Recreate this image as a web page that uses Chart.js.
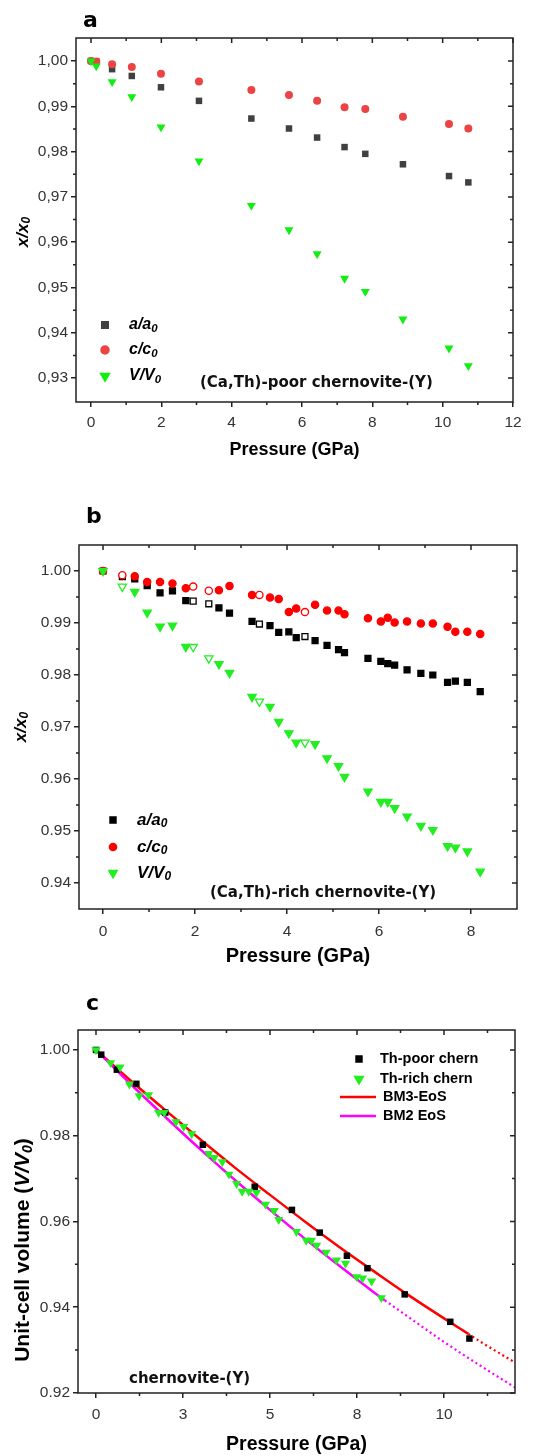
<!DOCTYPE html>
<html><head><meta charset="utf-8">
<script src="https://cdn.jsdelivr.net/npm/chart.js@4.4.1/dist/chart.umd.min.js"></script>
<style>
html,body{margin:0;padding:0;background:#fff}
body{width:542px;height:1456px;position:relative;overflow:hidden}
canvas{position:absolute;left:0}
</style></head><body>
<canvas id="chartA" width="542" height="470" style="top:0px"></canvas>
<canvas id="chartB" width="542" height="497" style="top:478px"></canvas>
<canvas id="chartC" width="542" height="481" style="top:975px"></canvas>
<script>
// ---------- Panel a: (Ca,Th)-poor chernovite-(Y) ----------
const pressureA = [0, 0.15, 0.6, 1.16, 1.99, 3.07, 4.56, 5.63, 6.43, 7.21, 7.8, 8.87, 10.18, 10.73];
const aRatioA = [1.0000, 0.9999, 0.9982, 0.9967, 0.9942, 0.9912, 0.9873, 0.9851, 0.9831, 0.9810, 0.9795, 0.9772, 0.9746, 0.9732];
const cRatioA = [1.0000, 0.9999, 0.9993, 0.9987, 0.9972, 0.9955, 0.9936, 0.9925, 0.9912, 0.9898, 0.9894, 0.9877, 0.9861, 0.9851];
const vRatioA = [1.0000, 0.9989, 0.9954, 0.9921, 0.9854, 0.9779, 0.9681, 0.9627, 0.9574, 0.9520, 0.9491, 0.9430, 0.9366, 0.9327];
const aXTicks = [0, 2, 4, 6, 8, 10, 12];
const aXLabels = ['0', '2', '4', '6', '8', '10', '12'];
const aXMinor = [1, 3, 5, 7, 9, 11];
const aYTicks = [0.93, 0.94, 0.95, 0.96, 0.97, 0.98, 0.99, 1.00];
const aYLabels = ['0,93', '0,94', '0,95', '0,96', '0,97', '0,98', '0,99', '1,00'];
const aYMinor = [0.935, 0.945, 0.955, 0.965, 0.975, 0.985, 0.995];

// ---------- Panel b: (Ca,Th)-rich chernovite-(Y) ----------
const pressureB = [0, 0.42, 0.69, 0.96, 1.24, 1.51, 1.80, 1.96, 2.30, 2.52, 2.75, 3.24, 3.40, 3.63, 3.82, 4.04, 4.20, 4.39, 4.61, 4.87, 5.12, 5.25, 5.76, 6.04, 6.19, 6.34, 6.61, 6.91, 7.17, 7.49, 7.66, 7.92, 8.20];
const openB = [0, 1, 0, 0, 0, 0, 0, 1, 1, 0, 0, 0, 1, 0, 0, 0, 0, 1, 0, 0, 0, 0, 0, 0, 0, 0, 0, 0, 0, 0, 0, 0, 0];
const aRatioB = [1.0000, 0.9989, 0.9985, 0.9972, 0.9958, 0.9962, 0.9943, 0.9942, 0.9937, 0.9929, 0.9919, 0.9903, 0.9898, 0.9895, 0.9882, 0.9883, 0.9872, 0.9874, 0.9866, 0.9857, 0.9849, 0.9843, 0.9832, 0.9826, 0.9822, 0.9819, 0.9810, 0.9803, 0.9800, 0.9786, 0.9788, 0.9786, 0.9768];
const cRatioB = [1.0000, 0.9992, 0.9990, 0.9979, 0.9979, 0.9976, 0.9967, 0.9970, 0.9962, 0.9963, 0.9971, 0.9954, 0.9954, 0.9949, 0.9946, 0.9921, 0.9928, 0.9921, 0.9935, 0.9924, 0.9924, 0.9917, 0.9909, 0.9903, 0.9910, 0.9901, 0.9903, 0.9899, 0.9899, 0.9893, 0.9883, 0.9883, 0.9879];
const vRatioB = [1.0000, 0.9970, 0.9960, 0.9920, 0.9893, 0.9895, 0.9854, 0.9854, 0.9832, 0.9821, 0.9804, 0.9758, 0.9749, 0.9739, 0.9710, 0.9688, 0.9670, 0.9670, 0.9667, 0.9640, 0.9625, 0.9604, 0.9576, 0.9556, 0.9556, 0.9544, 0.9528, 0.9510, 0.9502, 0.9471, 0.9468, 0.9461, 0.9422];
const bXTicks = [0, 2, 4, 6, 8];
const bXLabels = ['0', '2', '4', '6', '8'];
const bXMinor = [1, 3, 5, 7];
const bYTicks = [0.94, 0.95, 0.96, 0.97, 0.98, 0.99, 1.00];
const bYLabels = ['0.94', '0.95', '0.96', '0.97', '0.98', '0.99', '1.00'];
const bYMinor = [0.945, 0.955, 0.965, 0.975, 0.985, 0.995];

// ---------- Panel c: EoS fits ----------
const bm3P = [0, 1, 2, 3, 4, 5, 6, 7, 8, 9, 10, 10.7];
const bm3V = [1.0000, 0.9928, 0.9859, 0.9791, 0.9725, 0.9662, 0.9600, 0.9540, 0.9483, 0.9427, 0.9374, 0.9338];
const bm3ExtP = [10.7, 11, 12, 12.04];
const bm3ExtV = [0.9338, 0.9322, 0.9273, 0.9271];
const bm2P = [0, 1, 2, 3, 4, 5, 6, 7, 8, 8.3];
const bm2V = [1.0000, 0.9920, 0.9843, 0.9768, 0.9696, 0.9627, 0.9560, 0.9496, 0.9434, 0.9416];
const bm2ExtP = [8.3, 9, 10, 11, 12, 12.04];
const bm2ExtV = [0.9416, 0.9376, 0.9319, 0.9266, 0.9215, 0.9213];
const cXTicks = [0, 2.5, 5, 7.5, 10];
const cXLabels = ['0', '3', '5', '8', '10'];
const cXMinor = [1.25, 3.75, 6.25, 8.75, 11.25];
const cYTicks = [0.92, 0.94, 0.96, 0.98, 1.00];
const cYLabels = ['0.92', '0.94', '0.96', '0.98', '1.00'];
const cYMinor = [0.93, 0.95, 0.97, 0.99];

const SANS = '"Liberation Sans", Arial, sans-serif';
const DV = '"DejaVu Sans", Verdana, sans-serif';
Chart.defaults.font.family = SANS;

const pts = (xs, ys) => xs.map((x, i) => ({ x: x, y: ys[i] }));

function richWidth(ctx, parts) {
  let w = 0;
  parts.forEach(p => { ctx.font = p[1]; w += ctx.measureText(p[0]).width; });
  return w;
}
function drawRich(ctx, x, y, parts) {
  let cx = x;
  parts.forEach(p => {
    ctx.font = p[1];
    ctx.fillText(p[0], cx, y + (p[2] || 0));
    cx += ctx.measureText(p[0]).width;
  });
}

const decor = {
  id: 'decor',
  afterDraw(chart, args, o) {
    const ctx = chart.ctx, a = chart.chartArea;
    const xs = chart.scales.x, ys = chart.scales.y;
    const oy = o.oy;
    ctx.save();
    ctx.strokeStyle = '#222';
    ctx.lineWidth = 1.5;
    ctx.strokeRect(a.left, a.top, a.right - a.left, a.bottom - a.top);
    ctx.beginPath();
    xs.ticks.forEach(t => {
      const px = xs.getPixelForValue(t.value);
      ctx.moveTo(px, a.top); ctx.lineTo(px, a.top + 5);
    });
    ys.ticks.forEach(t => {
      const py = ys.getPixelForValue(t.value);
      ctx.moveTo(a.right, py); ctx.lineTo(a.right - 5, py);
    });
    o.xMinor.forEach(v => {
      const px = xs.getPixelForValue(v);
      ctx.moveTo(px, a.bottom); ctx.lineTo(px, a.bottom + 3);
      ctx.moveTo(px, a.top); ctx.lineTo(px, a.top + 3);
    });
    o.yMinor.forEach(v => {
      const py = ys.getPixelForValue(v);
      ctx.moveTo(a.left, py); ctx.lineTo(a.left - 3, py);
      ctx.moveTo(a.right, py); ctx.lineTo(a.right - 3, py);
    });
    ctx.stroke();

    // panel letter
    ctx.fillStyle = '#000';
    ctx.textBaseline = 'alphabetic';
    ctx.textAlign = 'left';
    ctx.font = 'bold 22px ' + DV;
    ctx.fillText(o.letter.t, o.letter.x, o.letter.y - oy);

    // y title (rotated)
    ctx.save();
    ctx.translate(o.yTitle.x, o.yTitle.y - oy);
    ctx.rotate(-Math.PI / 2);
    ctx.textBaseline = 'middle';
    const w = richWidth(ctx, o.yTitle.parts);
    drawRich(ctx, -w / 2, 0, o.yTitle.parts);
    ctx.restore();

    // legend
    o.legend.forEach(it => {
      const y = it.y - oy;
      if (it.line) {
        ctx.strokeStyle = it.color; ctx.lineWidth = 2.5;
        ctx.beginPath(); ctx.moveTo(it.line[0], y); ctx.lineTo(it.line[1], y); ctx.stroke();
      } else {
        ctx.fillStyle = it.color; ctx.strokeStyle = it.color;
        Chart.helpers.drawPoint(ctx, { pointStyle: it.style, radius: it.r, rotation: it.rot || 0, borderWidth: 1 }, it.x, y);
      }
      ctx.fillStyle = '#000';
      ctx.textBaseline = 'middle';
      drawRich(ctx, it.tx, y + (it.dy || 0), it.parts);
    });

    // annotation
    ctx.fillStyle = '#111';
    ctx.textBaseline = 'alphabetic';
    ctx.font = o.note.font;
    ctx.fillText(o.note.t, o.note.x, o.note.y - oy);
    ctx.restore();
  }
};

function axis(min, max, ticks, labels, fontSize, pad) {
  return {
    type: 'linear', min: min, max: max, bounds: 'data',
    afterBuildTicks: s => { s.ticks = ticks.map(v => ({ value: v })); },
    ticks: { autoSkip: false, maxRotation: 0, minRotation: 0, padding: pad, color: '#333',
             font: { size: fontSize }, callback: (v, i) => labels[i] },
    grid: { display: true, drawOnChartArea: false, drawTicks: true, tickLength: 5, color: '#222', lineWidth: 1.5 },
    border: { display: false }
  };
}

function makeChart(id, H, area, xAx, yAx, datasets, xTitle, decorOpts) {
  xAx.afterFit = s => { s.height = H - area.b; };
  yAx.afterFit = s => { s.width = area.l; };
  xAx.title = xTitle;
  return new Chart(document.getElementById(id), {
    type: 'scatter',
    data: { datasets: datasets },
    options: {
      responsive: false, animation: false, devicePixelRatio: 1,
      layout: { autoPadding: false, padding: { left: 0, top: area.t, right: 542 - area.r, bottom: 0 } },
      scales: { x: xAx, y: yAx },
      plugins: { legend: { display: false }, tooltip: { enabled: false }, decor: decorOpts }
    },
    plugins: [decor]
  });
}

const IB = (s) => 'italic bold ' + s + 'px ' + SANS;

// ---- Chart A ----
const grayA = '#404040', redA = '#ec4444', greenA = '#11ee11';
makeChart('chartA', 470, { l: 76, r: 513, t: 38, b: 402 },
  axis(-0.4265, 12.0, aXTicks, aXLabels, 15.5, 6),
  axis(0.92472, 1.00508, aYTicks, aYLabels, 15.5, 3),
  [
    { label: 'a/a0', order: 3, data: pts(pressureA, aRatioA), pointStyle: 'rect', pointRadius: 4.6, backgroundColor: grayA, borderColor: grayA, borderWidth: 0 },
    { label: 'c/c0', order: 2, data: pts(pressureA, cRatioA), pointStyle: 'circle', pointRadius: 4, backgroundColor: redA, borderColor: redA, borderWidth: 0 },
    { label: 'V/V0', order: 1, data: pts(pressureA, vRatioA), pointStyle: 'triangle', rotation: 180, pointRadius: 5.2, backgroundColor: greenA, borderColor: greenA, borderWidth: 0 }
  ],
  { display: true, text: 'Pressure (GPa)', color: '#000', font: { size: 18, weight: 'bold', lineHeight: 1 }, padding: { top: 0, bottom: 11 } },
  {
    oy: 0, xMinor: aXMinor, yMinor: aYMinor,
    letter: { t: 'a', x: 83, y: 27 },
    yTitle: { x: 23, y: 232, parts: [['x/x', IB(17), 0], ['0', IB(12), 4]] },
    legend: [
      { x: 105, y: 325, style: 'rect', r: 4.6, color: grayA, tx: 129, parts: [['a/a', IB(16), 0], ['0', IB(11.5), 4]] },
      { x: 105, y: 350, style: 'circle', r: 4, color: redA, tx: 129, parts: [['c/c', IB(16), 0], ['0', IB(11.5), 4]] },
      { x: 105, y: 376, style: 'triangle', rot: 180, r: 5.2, color: greenA, tx: 129, parts: [['V/V', IB(16), 0], ['0', IB(11.5), 4]] }
    ],
    note: { t: '(Ca,Th)-poor chernovite-(Y)', x: 200, y: 387, font: 'bold 15px ' + DV }
  });

// ---- Chart B ----
const blackB = '#000000', redB = '#ff0000', greenB = '#22ee22';
const fillOpen = (c) => (ctx) => (openB[ctx.dataIndex] ? '#ffffff' : c);
makeChart('chartB', 497, { l: 79, r: 517, t: 67, b: 431 },
  axis(-0.522, 9.0, bXTicks, bXLabels, 15.5, 8),
  axis(0.935, 1.005, bYTicks, bYLabels, 15.5, 3),
  [
    { label: 'a/a0', order: 3, data: pts(pressureB, aRatioB), pointStyle: 'rect', pointRadius: 4.2, backgroundColor: fillOpen(blackB), borderColor: blackB, borderWidth: 1.3 },
    { label: 'c/c0', order: 2, data: pts(pressureB, cRatioB), pointStyle: 'circle', pointRadius: 3.6, backgroundColor: fillOpen(redB), borderColor: redB, borderWidth: 1.3 },
    { label: 'V/V0', order: 1, data: pts(pressureB, vRatioB), pointStyle: 'triangle', rotation: 180, pointRadius: 4.8, backgroundColor: fillOpen(greenB), borderColor: greenB, borderWidth: 1.3 }
  ],
  { display: true, text: 'Pressure (GPa)', color: '#000', font: { size: 20, weight: 'bold', lineHeight: 1 }, padding: { top: 0, bottom: 8.5 } },
  {
    oy: 478, xMinor: bXMinor, yMinor: bYMinor,
    letter: { t: 'b', x: 86, y: 523 },
    yTitle: { x: 21, y: 727, parts: [['x/x', IB(17), 0], ['0', IB(12), 4]] },
    legend: [
      { x: 113, y: 820, style: 'rect', r: 4.2, color: blackB, tx: 137, parts: [['a/a', IB(17), 0], ['0', IB(12), 4]] },
      { x: 113, y: 847, style: 'circle', r: 3.6, color: redB, tx: 137, parts: [['c/c', IB(17), 0], ['0', IB(12), 4]] },
      { x: 113, y: 873, style: 'triangle', rot: 180, r: 4.8, color: greenB, tx: 137, parts: [['V/V', IB(17), 0], ['0', IB(12), 4]] }
    ],
    note: { t: '(Ca,Th)-rich chernovite-(Y)', x: 210, y: 897, font: 'bold 15px ' + DV }
  });

// ---- Chart C ----
const blackC = '#000000', greenC = '#22ee22', redC = '#ff0000', magC = '#ff00ff';
makeChart('chartC', 481, { l: 78, r: 515, t: 55, b: 418 },
  axis(-0.517, 12.04, cXTicks, cXLabels, 15.5, 7),
  axis(0.92, 1.00465, cYTicks, cYLabels, 15.5, 3),
  [
    { label: 'Th-poor chern', order: 2, data: pts(pressureA, vRatioA), pointStyle: 'rect', pointRadius: 4.6, backgroundColor: blackC, borderColor: blackC, borderWidth: 0 },
    { label: 'Th-rich chern', order: 1, data: pts(pressureB, vRatioB), pointStyle: 'triangle', rotation: 180, pointRadius: 5.3, backgroundColor: greenC, borderColor: greenC, borderWidth: 0 },
    { label: 'BM3-EoS', order: 10, data: pts(bm3P, bm3V), showLine: true, pointRadius: 0, borderColor: redC, borderWidth: 2.5, cubicInterpolationMode: 'monotone' },
    { label: 'BM3 extrapolation', order: 11, data: pts(bm3ExtP, bm3ExtV), showLine: true, pointRadius: 0, borderColor: redC, borderWidth: 2.2, borderDash: [2, 3], cubicInterpolationMode: 'monotone' },
    { label: 'BM2 EoS', order: 9, data: pts(bm2P, bm2V), showLine: true, pointRadius: 0, borderColor: magC, borderWidth: 2.5, cubicInterpolationMode: 'monotone' },
    { label: 'BM2 extrapolation', order: 12, data: pts(bm2ExtP, bm2ExtV), showLine: true, pointRadius: 0, borderColor: magC, borderWidth: 2.2, borderDash: [2, 3], cubicInterpolationMode: 'monotone' }
  ],
  { display: true, text: 'Pressure (GPa)', color: '#000', font: { size: 19.5, weight: 'bold', lineHeight: 1 }, padding: { top: 0, bottom: 1.25 } },
  {
    oy: 975, xMinor: cXMinor, yMinor: cYMinor,
    letter: { t: 'c', x: 86, y: 1010 },
    yTitle: { x: 23, y: 1250, parts: [['Unit-cell volume (', 'bold 21px ' + SANS, 0], ['V/V', IB(21), 0], ['0', IB(14), 5], [')', 'bold 21px ' + SANS, 0]] },
    legend: [
      { x: 359, y: 1059, style: 'rect', r: 4.2, color: blackC, tx: 380, parts: [['Th-poor chern', 'bold 14.5px ' + SANS, 0]] },
      { x: 359, y: 1079, style: 'triangle', rot: 180, r: 5, color: greenC, tx: 380, parts: [['Th-rich chern', 'bold 14.5px ' + SANS, 0]] },
      { line: [340, 376], y: 1097, color: redC, tx: 383, parts: [['BM3-EoS', 'bold 14.5px ' + SANS, 0]] },
      { line: [340, 376], y: 1116, color: magC, tx: 383, parts: [['BM2 EoS', 'bold 14.5px ' + SANS, 0]] }
    ],
    note: { t: 'chernovite-(Y)', x: 129, y: 1383, font: 'bold 15px ' + DV }
  });
</script>
</body></html>
